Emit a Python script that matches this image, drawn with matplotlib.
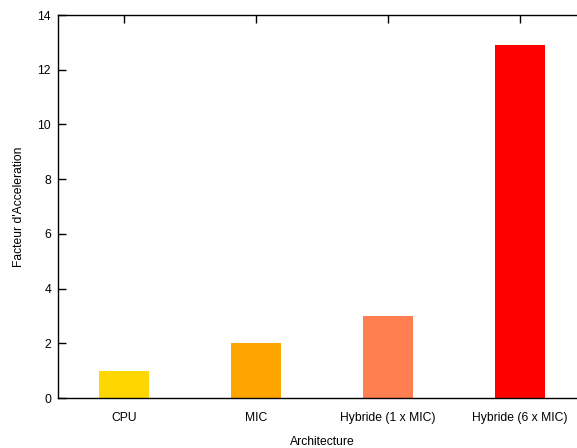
import matplotlib
matplotlib.use("Agg")
import matplotlib.pyplot as plt

categories = ["CPU", "MIC", "Hybride (1 x MIC)", "Hybride (6 x MIC)"]
speedup = [1.0, 2.0, 3.0, 12.9]
colors = ["#FFD700", "#FFA500", "#FF7F50", "#FF0000"]
yticks = [0, 2, 4, 6, 8, 10, 12, 14]

plt.rcParams['font.family'] = ['Liberation Sans', 'DejaVu Sans']

fig = plt.figure(figsize=(5.77, 4.48), dpi=100)
ax = fig.add_axes([58/577, 50/448, 528/577, 383/448])

x = list(range(len(categories)))
ax.bar(x, speedup, width=0.38, color=colors, zorder=1)

ax.set_xlim(-0.5, 3.5)
ax.set_ylim(0, 14)
ax.set_yticks(yticks)
ax.set_xticks(x)
ax.set_xticklabels(categories)

for s in ax.spines.values():
    s.set_linewidth(1.0)
    s.set_color("black")
ax.spines['right'].set_visible(False)

fs = 8.7
ax.tick_params(axis='y', direction='in', length=5.5, width=1, labelsize=fs, pad=5, right=False)
ax.tick_params(axis='x', direction='in', length=5.5, width=1, labelsize=fs, pad=10, top=True, bottom=False)

ax.set_xlabel("Architecture", fontsize=fs, labelpad=9)
ax.set_ylabel("Facteur d'Acceleration", fontsize=fs, labelpad=9)

fig.savefig("out.png", dpi=100)
